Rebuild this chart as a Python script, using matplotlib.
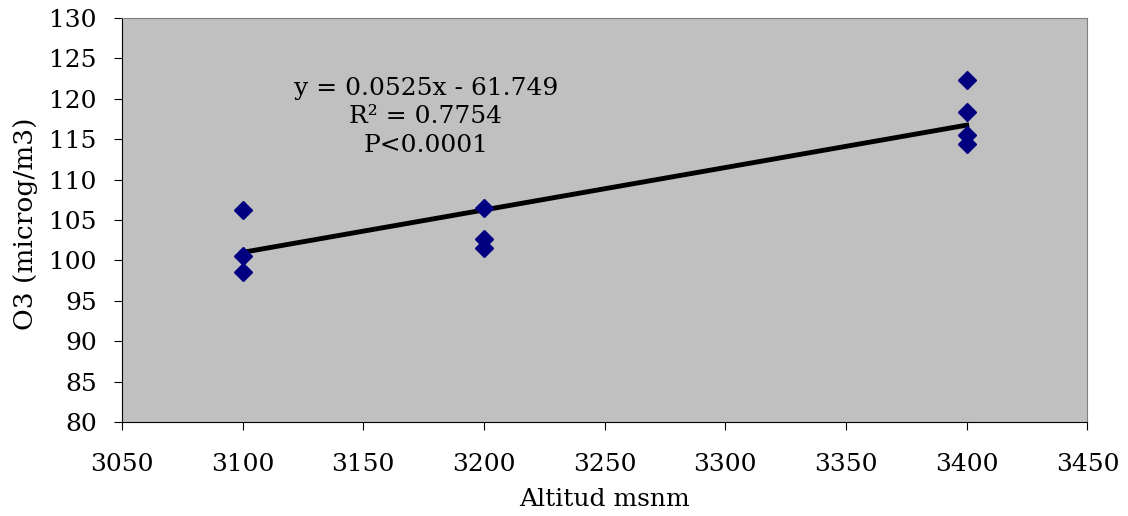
import matplotlib
matplotlib.use('Agg')
import matplotlib.pyplot as plt
import numpy as np

# datos
altitud = [3100, 3100, 3100, 3200, 3200, 3200, 3400, 3400, 3400, 3400]
o3 = [106.2, 100.5, 98.6, 106.5, 102.6, 101.5, 122.3, 118.4, 115.5, 114.4]
pendiente = 0.0525
intercepto = -61.749
r2 = 0.7754
x_ticks = [3050, 3100, 3150, 3200, 3250, 3300, 3350, 3400, 3450]
y_ticks = [80, 85, 90, 95, 100, 105, 110, 115, 120, 125, 130]

plt.rcParams['font.family'] = 'DejaVu Serif'

fig = plt.figure(figsize=(11.28, 5.16), dpi=100)
ax = fig.add_axes([0.108, 0.182, 0.856, 0.783])
ax.set_facecolor('#c0c0c0')

ax.plot(altitud, o3, linestyle='none', marker='D', markersize=9, color='#000080', zorder=3)

# linea de tendencia
x_line = np.array([min(altitud), max(altitud)])
ax.plot(x_line, pendiente * x_line + intercepto, color='black', linewidth=3.5, zorder=2)

ax.text(3176, 122.7, f"y = {pendiente}x - {abs(intercepto)}\nR\u00b2 = {r2}\nP<0.0001",
        ha='center', va='top', fontsize=18, linespacing=1.3)

ax.set_xlim(3050, 3450)
ax.set_ylim(80, 130)
ax.set_xticks(x_ticks)
ax.set_yticks(y_ticks)
ax.tick_params(labelsize=18, direction='out', length=6, color='black')
ax.tick_params(axis='x', pad=16)
ax.tick_params(axis='y', pad=12)
for s in ['top', 'right']:
    ax.spines[s].set_color('#808080')
for s in ['left', 'bottom']:
    ax.spines[s].set_color('black')

ax.set_xlabel('Altitud msnm', fontsize=18)
ax.set_ylabel('O3 (microg/m3)', fontsize=19)
ax.xaxis.set_label_coords(0.5, -0.163)
ax.yaxis.set_label_coords(-0.087, 0.49)

fig.savefig('out.png', dpi=100)
